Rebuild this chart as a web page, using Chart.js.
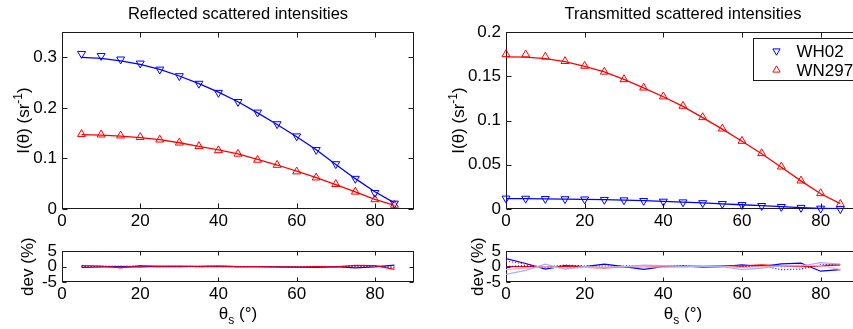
<!DOCTYPE html>
<html><head><meta charset="utf-8">
<script src="https://cdn.jsdelivr.net/npm/chart.js@4/dist/chart.umd.min.js"></script>
<style>
html,body{margin:0;padding:0;background:#fff;overflow:hidden;}
#wrap{position:relative;width:853px;height:329px;overflow:hidden;background:#fff;}
canvas{position:absolute;}
</style></head><body>
<div id="wrap">
<canvas id="c1" width="430" height="236" style="left:0;top:0;width:430px;height:236px"></canvas>
<canvas id="c2" width="450" height="236" style="left:430px;top:0;width:450px;height:236px"></canvas>
<canvas id="c3" width="430" height="93" style="left:0;top:236px;width:430px;height:93px"></canvas>
<canvas id="c4" width="450" height="93" style="left:430px;top:236px;width:450px;height:93px"></canvas>
</div>
<script>
// ---------- data ----------
const thetaRefl = [5,10,15,20,25,30,35,40,45,50,55,60,65,70,75,80,85];
const thetaTrans = [0,5,10,15,20,25,30,35,40,45,50,55,60,65,70,75,80,85];
const seriesNames = ['WH02','WN297'];

// Reflected: measured (markers) and model (lines)
const reflWH02 = [0.307,0.303,0.296,0.288,0.276,0.263,0.248,0.230,0.212,0.191,0.168,0.144,0.117,0.089,0.060,0.032,0.011];
const reflWH02Fit = [0.300,0.298,0.293,0.286,0.276,0.263,0.248,0.231,0.212,0.190,0.167,0.143,0.117,0.088,0.060,0.034,0.012];
const reflWN297 = [0.148,0.147,0.145,0.142,0.137,0.131,0.124,0.116,0.109,0.097,0.087,0.074,0.062,0.049,0.034,0.019,0.008];
const reflWN297Fit = [0.147,0.146,0.144,0.141,0.137,0.131,0.124,0.117,0.109,0.098,0.087,0.075,0.062,0.048,0.034,0.019,0.007];

// Transmitted: measured (markers) and model (lines)
const transWH02 = [0.0120,0.0118,0.0115,0.0113,0.0110,0.0105,0.0100,0.0093,0.0085,0.0077,0.0068,0.0058,0.0047,0.0036,0.0025,0.0015,0.0006,0.0000];
const transWH02Fit = [0.0118,0.0117,0.0115,0.0112,0.0109,0.0105,0.0100,0.0094,0.0086,0.0078,0.0069,0.0059,0.0048,0.0037,0.0026,0.0016,0.0008,0.0003];
const transWN297 = [0.1748,0.1745,0.172,0.167,0.1616,0.155,0.1465,0.137,0.127,0.1164,0.1036,0.0907,0.0768,0.0629,0.0478,0.032,0.0177,0.0056];
const transWN297Fit = [0.1720,0.1715,0.1700,0.1665,0.1612,0.1550,0.1465,0.1368,0.1268,0.1160,0.1032,0.0902,0.0765,0.0625,0.0472,0.0318,0.0172,0.0060];

// Deviations (%)
const devReflWH02 = [-0.3,-0.1,0.0,-0.1,0.1,0.0,0.1,0.2,0.0,0.0,-0.1,-0.2,-0.3,0.0,-0.4,-0.1,0.5];
const devReflWH02b = [0.1,0.0,0.2,0.0,0.1,0.1,0.0,0.1,0.0,0.0,0.0,-0.1,-0.1,0.0,0.1,0.2,-0.2];
const devReflWN297 = [0.3,0.2,-0.4,0.3,0.1,0.2,0.0,0.1,0.0,0.0,-0.1,-0.2,0.0,-0.1,0.4,0.3,-0.9];
const devReflWN297b = [0.0,0.1,0.0,0.1,0.0,0.0,0.1,0.0,0.0,0.0,0.0,0.0,0.1,0.0,0.2,0.2,-0.4];

const devTransWH02 = [2.6,1.0,-0.8,0.3,0.0,0.8,0.0,-0.9,0.0,0.2,-0.2,0.0,0.6,0.0,0.9,1.1,-1.5,-1.0];
const devTransWH02b = [0.0,0.3,-0.2,0.5,0.2,0.2,0.2,0.3,0.1,0.3,0.0,0.2,-0.1,0.3,-1.0,-0.8,0.6,0.6];
const devTransWH02c = [-2.5,-1.2,0.8,-0.8,0.0,-0.3,0.0,0.5,0.3,0.0,0.0,0.0,-1.0,-0.5,0.3,0.2,1.3,0.8];
const devTransWN297 = [0.0,0.0,0.0,0.0,-0.2,-0.4,-0.1,0.0,0.0,0.0,0.2,0.3,0.2,0.5,0.2,0.0,0.3,0.6];
const devTransWN297b = [1.8,0.8,-0.3,0.3,0.0,-0.3,-0.2,0.2,0.3,0.1,0.1,0.2,0.0,0.3,0.0,0.1,0.3,0.5];
const devTransWN297c = [-1.0,-0.5,0.0,-0.5,-0.2,-0.3,0.0,0.0,-0.2,-0.1,0.3,0.2,-0.3,0.0,0.2,0.5,0.3,-0.9];

// Tick labels
const xTicks = [0,20,40,60,80];
const reflYTicks = [0,0.1,0.2,0.3];
const transYTicks = [0,0.05,0.1,0.15,0.2];
const devYTicks = [-5,0,5];

// Axis titles (rich text parts: [text, role])
const intensityTitle = [['I(θ) (sr','n'],['-1','sup'],[')','n']];
const devTitle = [['dev (%)','n']];
const angleTitle = [['θ','n'],['s','sub'],[' (°)','n']];

// ---------- styling ----------
const FONT = "'Liberation Sans', Arial, Helvetica, sans-serif";
const BLUE = '#0000ff', RED = '#ff0000', LBLUE = '#a8aefc', LRED = '#ffb0b0';
const AXC = '#1a1a1a';

const pts = (xs, ys) => xs.map((x,i)=>({x, y: ys[i]}));

function markers(label, xs, ys, color, down) {
  return {label, data: pts(xs,ys), showLine:false, pointStyle:'triangle', rotation: down?180:0,
    pointRadius:4.6, pointBorderColor:color, pointBackgroundColor:'rgba(0,0,0,0)', pointBorderWidth:1,
    borderColor:color, clip:false, isMarker:true, down};
}
function line(xs, ys, color, dash, width) {
  return {data: pts(xs,ys), showLine:true, pointRadius:0, borderColor:color, borderWidth:width||1.3,
    borderDash: dash||[], tension:0, fill:false};
}

const framePlugin = {
  id:'frame',
  beforeDatasetsDraw(chart) {
    const {ctx, chartArea:a, scales} = chart;
    const L = chart.options.tickLen || 5;
    ctx.save();
    ctx.strokeStyle = AXC; ctx.lineWidth = 1;
    const l = Math.round(a.left)+0.5, r = Math.round(a.right)-0.5, t = Math.round(a.top)+0.5, b = Math.round(a.bottom)-0.5;
    ctx.strokeRect(l, t, r-l, b-t);
    ctx.beginPath();
    scales.x.ticks.forEach(tk => {
      const px = Math.round(scales.x.getPixelForValue(tk.value))+0.5;
      ctx.moveTo(px, b); ctx.lineTo(px, b-L);
      ctx.moveTo(px, t); ctx.lineTo(px, t+L);
    });
    scales.y.ticks.forEach(tk => {
      const py = Math.round(scales.y.getPixelForValue(tk.value))+0.5;
      ctx.moveTo(l, py); ctx.lineTo(l+L, py);
      ctx.moveTo(r, py); ctx.lineTo(r-L, py);
    });
    ctx.stroke();
    ctx.restore();
  }
};

function drawRich(ctx, parts, x, y, size, rotate) {
  ctx.save();
  ctx.translate(x, y);
  if (rotate) ctx.rotate(-Math.PI/2);
  ctx.fillStyle = '#000';
  ctx.textBaseline = 'alphabetic'; ctx.textAlign = 'left';
  const fontFor = role => (role === 'n' ? size : Math.round(size*0.68)) + 'px ' + FONT;
  let total = 0;
  parts.forEach(([t, role]) => { ctx.font = fontFor(role); total += ctx.measureText(t).width; });
  let cx = -total/2;
  const base = size*0.36;
  parts.forEach(([t, role]) => {
    ctx.font = fontFor(role);
    const dy = role === 'sup' ? -size*0.42 : role === 'sub' ? size*0.3 : 0;
    ctx.fillText(t, cx, base + dy);
    cx += ctx.measureText(t).width;
  });
  ctx.restore();
}

const axisTitlePlugin = {
  id:'axisTitles',
  afterDraw(chart) {
    const o = chart.options.richTitles;
    if (!o) return;
    const {ctx, chartArea:a} = chart;
    if (o.y) drawRich(ctx, o.y, o.yX, (a.top + a.bottom)/2, o.ySize, true);
    if (o.x) drawRich(ctx, o.x, (a.left + a.right)/2, chart.height - o.xFromBottom, o.xSize, false);
  }
};

function tri(ctx, x, y, r, down) {
  const s = down ? -1 : 1;
  ctx.beginPath();
  ctx.moveTo(x, y - s*r);
  ctx.lineTo(x + r*0.866, y + s*r*0.5);
  ctx.lineTo(x - r*0.866, y + s*r*0.5);
  ctx.closePath();
  ctx.stroke();
}

const legendPlugin = {
  id:'boxLegend',
  afterDraw(chart) {
    const {ctx, chartArea:a} = chart;
    const items = chart.data.datasets.filter(d=>d.isMarker);
    const left = Math.round(a.right - 107)+0.5, top = Math.round(a.top + 6)+0.5;
    ctx.save();
    ctx.fillStyle = '#fff'; ctx.strokeStyle = AXC; ctx.lineWidth = 1;
    ctx.fillRect(left, top, 120, 42);
    ctx.strokeRect(left, top, 120, 42);
    ctx.font = "17px " + FONT;
    ctx.textBaseline = 'middle'; ctx.textAlign = 'left';
    items.forEach((d,i) => {
      const cy = top + 12.5 + i*19;
      ctx.strokeStyle = d.pointBorderColor; ctx.lineWidth = 1;
      tri(ctx, left + 23, cy, 4.2, d.down);
      ctx.fillStyle = '#000';
      ctx.fillText(d.label, left + 43, cy + 1);
    });
    ctx.restore();
  }
};

function makeChart(id, cfg) {
  const ctx = document.getElementById(id);
  const fixedTicks = arr => (s => { s.ticks = arr.map(v=>({value:v})); });
  const plugins = [framePlugin, axisTitlePlugin];
  if (cfg.legend) plugins.push(legendPlugin);
  return new Chart(ctx, {
    type:'line',
    data:{datasets: cfg.datasets},
    plugins,
    options:{
      responsive:false, animation:false, devicePixelRatio:1,
      tickLen: cfg.tickLen,
      richTitles: {y: cfg.yTitle, yX: cfg.yTitleX, ySize: cfg.yTitleSize || 17,
                   x: cfg.xTitle, xFromBottom: 16, xSize: 17},
      layout:{padding:{left:0, right:cfg.padRight, top:cfg.padTop, bottom:0}},
      plugins:{
        legend:{display:false}, tooltip:{enabled:false},
        title: cfg.title ? {display:true, text:cfg.title, fullSize:false, color:'#000',
          font:{family:FONT, size:16.5, weight:'normal', lineHeight:1.2}, padding:{top:5, bottom:7.2}} : {display:false}
      },
      scales:{
        x:{type:'linear', min:0, max:90,
          afterBuildTicks: fixedTicks(xTicks),
          afterFit: s => { s.height = cfg.xAxisHeight; },
          grid:{display:false, drawTicks:false}, border:{display:false},
          ticks:{color:'#000', font:{family:FONT, size:17}, padding:cfg.xTickPad, maxRotation:0, autoSkip:false, callback:v=>String(v)},
          title:{display:false}
        },
        y:{type:'linear', min:cfg.yMin, max:cfg.yMax,
          afterBuildTicks: fixedTicks(cfg.yTicks),
          afterFit: s => { s.width = cfg.yAxisWidth; },
          grid:{display:false, drawTicks:false}, border:{display:false},
          ticks:{color:'#000', font:{family:FONT, size:17}, padding:5, autoSkip:false, callback:v=>String(v)},
          title:{display:false}
        }
      }
    }
  });
}

makeChart('c1', {
  title:'Reflected scattered intensities', yTitle:intensityTitle, yTitleX:23,
  yMin:0, yMax:0.35, yTicks:reflYTicks, yAxisWidth:62, xAxisHeight:27, padRight:16, padTop:0,
  xTickPad:2, tickLen:5,
  datasets:[
    line(thetaRefl, reflWH02Fit, BLUE), line(thetaRefl, reflWN297Fit, RED),
    markers(seriesNames[0], thetaRefl, reflWH02, BLUE, true),
    markers(seriesNames[1], thetaRefl, reflWN297, RED, false)
  ]
});

makeChart('c2', {
  title:'Transmitted scattered intensities', yTitle:intensityTitle, yTitleX:28, legend:true,
  yMin:0, yMax:0.2, yTicks:transYTicks, yAxisWidth:76, xAxisHeight:27, padRight:20, padTop:0,
  xTickPad:2, tickLen:5,
  datasets:[
    line(thetaTrans, transWH02Fit, BLUE), line(thetaTrans, transWN297Fit, RED),
    markers(seriesNames[0], thetaTrans, transWH02, BLUE, true),
    markers(seriesNames[1], thetaTrans, transWN297, RED, false)
  ]
});

makeChart('c3', {
  yTitle:devTitle, xTitle:angleTitle, yTitleX:27,
  yMin:-5, yMax:5, yTicks:devYTicks, yAxisWidth:62, xAxisHeight:47, padRight:16, padTop:2,
  xTickPad:2, tickLen:4,
  datasets:[
    line(thetaRefl, devReflWN297b, RED, [1,2], 1.2),
    line(thetaRefl, devReflWH02b, BLUE, [1,2], 1.2),
    line(thetaRefl, devReflWN297, RED, [], 1.2),
    line(thetaRefl, devReflWH02, BLUE, [], 1.2)
  ]
});

makeChart('c4', {
  yTitle:devTitle, xTitle:angleTitle, yTitleX:47,
  yMin:-5, yMax:5, yTicks:devYTicks, yAxisWidth:76, xAxisHeight:47, padRight:20, padTop:2,
  xTickPad:2, tickLen:4,
  datasets:[
    line(thetaTrans, devTransWH02c, LBLUE, [], 1.2),
    line(thetaTrans, devTransWN297c, LRED, [], 1.2),
    line(thetaTrans, devTransWN297b, RED, [1,2], 1.2),
    line(thetaTrans, devTransWH02b, BLUE, [1,2], 1.2),
    line(thetaTrans, devTransWN297, RED, [], 1.4),
    line(thetaTrans, devTransWH02, BLUE, [], 1.2)
  ]
});
</script>
</body></html>
